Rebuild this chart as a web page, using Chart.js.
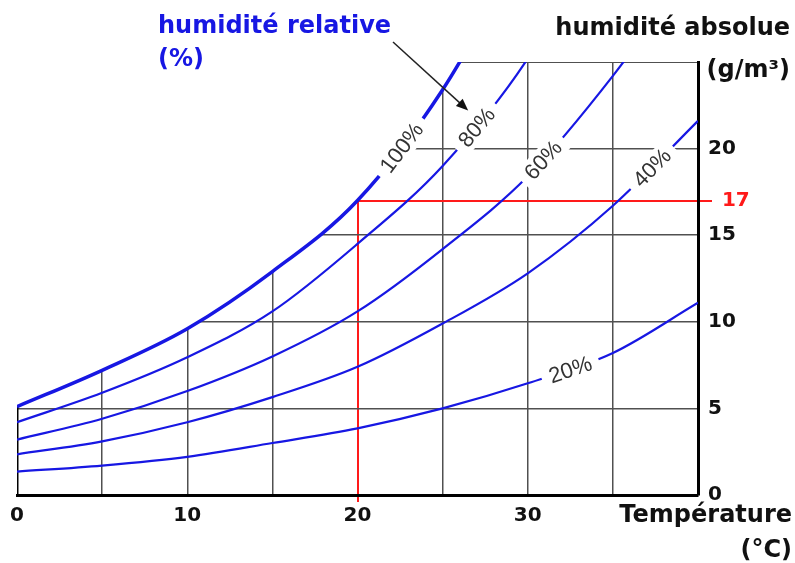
<!DOCTYPE html>
<html lang="fr">
<head>
<meta charset="UTF-8">
<title>Humidité relative et humidité absolue</title>
<script src="https://cdn.jsdelivr.net/npm/chart.js"></script>
<style>
body { margin: 0; background: #fff; }
#wrap { width: 795px; height: 563px; }
</style>
</head>
<body>
<div id="wrap"><canvas id="chart" width="795" height="563"></canvas></div>
<script>
// températures (°C)
const temps = [0, 5, 10, 15, 20, 25, 30, 35, 40];
// humidité absolue (g/m3) lue sur chaque courbe d'humidité relative
const rh100 = [5.1, 7.2, 9.6, 12.9, 17.0, 23.4, 32.0];
const rh80 = [4.2, 5.9, 7.95, 10.6, 14.5, 19.0, 25.2, 34.0];
const rh60 = [3.2, 4.4, 6.0, 8.0, 10.6, 14.2, 18.4, 24.2, 31.0];
const rh40 = [2.35, 3.1, 4.2, 5.65, 7.4, 9.9, 12.8, 16.7, 21.6];
const rh20 = [1.35, 1.7, 2.2, 3.0, 3.85, 5.0, 6.45, 8.2, 11.1];
const curveLabels = ['100%', '80%', '60%', '40%', '20%'];
const labelTemps = [22.6, 27.0, 30.9, 37.3, 32.5];
const xTicks = [0, 5, 10, 15, 20, 25, 30, 35, 40];
const yTicks = [0, 5, 10, 15, 17, 20, 25];
// point lu en rouge : 20 °C, 17 g/m3
const markTemp = 20;
const markHum = 17;

const blue = '#1717e3';
const red = '#ff1a1a';
const gridGray = '#505050';
const none = 'rgba(0,0,0,0)';
const tickFont = { family: 'DejaVu Sans', size: 20, weight: 'bold' };

function series(vals) {
  return vals.map((v, i) => ({ x: temps[i], y: v }));
}

// position sur la courbe lissée (x linéaire en t avec le mode monotone)
function pointOnCurve(meta, px) {
  const pts = meta.data;
  for (let i = 0; i < pts.length - 1; i++) {
    const a = pts[i], b = pts[i + 1];
    if (px >= a.x && px <= b.x) {
      const t = (px - a.x) / (b.x - a.x);
      const u = 1 - t;
      const a2 = a.cp2y === undefined ? a.y : a.cp2y;
      const b1 = b.cp1y === undefined ? b.y : b.cp1y;
      const y = u * u * u * a.y + 3 * u * u * t * a2 + 3 * u * t * t * b1 + t * t * t * b.y;
      const dy = 3 * u * u * (a2 - a.y) + 6 * u * t * (b1 - a2) + 3 * t * t * (b.y - b1);
      return { x: px, y: y, angle: Math.atan2(dy, b.x - a.x) };
    }
  }
  return null;
}

const decor = {
  id: 'decor',
  afterDatasetsDraw(chart) {
    const ctx = chart.ctx;
    const xs = chart.scales.x;

    // étiquettes des courbes
    ctx.save();
    ctx.font = '22px "Liberation Sans"';
    ctx.textAlign = 'center';
    ctx.textBaseline = 'middle';
    curveLabels.forEach((txt, i) => {
      const p = pointOnCurve(chart.getDatasetMeta(i), xs.getPixelForValue(labelTemps[i]));
      if (!p) return;
      const w = ctx.measureText(txt).width + 16;
      ctx.save();
      ctx.translate(p.x, p.y);
      ctx.rotate(p.angle);
      ctx.fillStyle = '#fff';
      ctx.fillRect(-w / 2, -12, w, 24);
      ctx.fillStyle = '#333';
      ctx.fillText(txt, 0, 1);
      ctx.restore();
    });
    ctx.restore();
  },
  afterDraw(chart) {
    const ctx = chart.ctx;
    const xs = chart.scales.x, ys = chart.scales.y;
    ctx.save();
    ctx.font = 'bold 24px "DejaVu Sans"';
    ctx.textBaseline = 'alphabetic';

    ctx.fillStyle = blue;
    ctx.textAlign = 'left';
    ctx.fillText('humidité relative', 158, 33);
    ctx.fillText('(%)', 158, 66);

    ctx.fillStyle = '#111';
    ctx.textAlign = 'right';
    ctx.fillText('humidité absolue', 790, 35);
    ctx.fillText('(g/m³)', 790, 77);
    ctx.fillText('Température', 792, 522);
    ctx.fillText('(°C)', 792, 557);

    // flèche vers la courbe 80 %
    const x0 = 393, y0 = 42;
    const x1 = xs.getPixelForValue(26.5), y1 = ys.getPixelForValue(22.2);
    const ang = Math.atan2(y1 - y0, x1 - x0);
    ctx.strokeStyle = '#222';
    ctx.fillStyle = '#111';
    ctx.lineWidth = 1.5;
    ctx.beginPath();
    ctx.moveTo(x0, y0);
    ctx.lineTo(x1 - 8 * Math.cos(ang), y1 - 8 * Math.sin(ang));
    ctx.stroke();
    ctx.beginPath();
    ctx.moveTo(x1, y1);
    ctx.lineTo(x1 - 12 * Math.cos(ang) + 5 * Math.sin(ang), y1 - 12 * Math.sin(ang) - 5 * Math.cos(ang));
    ctx.lineTo(x1 - 12 * Math.cos(ang) - 5 * Math.sin(ang), y1 - 12 * Math.sin(ang) + 5 * Math.cos(ang));
    ctx.closePath();
    ctx.fill();
    ctx.restore();
  }
};

const common = { pointRadius: 0, borderColor: blue, cubicInterpolationMode: 'monotone', fill: false };

new Chart(document.getElementById('chart'), {
  type: 'line',
  data: {
    datasets: [
      Object.assign({}, common, { data: series(rh100), borderWidth: 3.5, fill: 'end', backgroundColor: '#fff' }),
      Object.assign({}, common, { data: series(rh80), borderWidth: 2.2 }),
      Object.assign({}, common, { data: series(rh60), borderWidth: 2.2 }),
      Object.assign({}, common, { data: series(rh40), borderWidth: 2.2 }),
      Object.assign({}, common, { data: series(rh20), borderWidth: 2.2 }),
      // bord gauche du diagramme, jusqu'à la courbe de saturation
      { data: [{ x: temps[0], y: 0 }, { x: temps[0], y: rh100[0] }], borderColor: '#000', borderWidth: 3, pointRadius: 0, fill: false }
    ]
  },
  options: {
    responsive: false,
    animation: false,
    devicePixelRatio: 1,
    layout: { padding: { left: 17, top: 62, right: 0, bottom: 0 } },
    plugins: { legend: { display: false }, tooltip: { enabled: false } },
    scales: {
      x: {
        type: 'linear',
        min: 0,
        max: 40,
        afterBuildTicks: s => { s.ticks = xTicks.map(v => ({ value: v })); },
        afterFit: s => { s.height = 68; },
        grid: {
          color: c => c.tick.value === markTemp ? red : (c.tick.value === 0 ? none : gridGray),
          lineWidth: c => c.tick.value === markTemp ? 2 : 1.5,
          tickColor: c => c.tick.value === markTemp ? red : none,
          tickLength: 7
        },
        border: { color: '#000', width: 3 },
        ticks: {
          callback: v => (v % 10 === 0 && v < 40) ? v : '',
          font: tickFont,
          color: '#111',
          padding: 2,
          maxRotation: 0,
          autoSkip: false
        }
      },
      y: {
        position: 'right',
        min: 0,
        max: 25,
        afterBuildTicks: s => { s.ticks = yTicks.map(v => ({ value: v })); },
        afterFit: s => { s.width = 97; },
        grid: {
          color: c => c.tick.value === markHum ? red : gridGray,
          // ligne du haut fine pour rester dans la zone masquée au-dessus de 100 %
          lineWidth: c => c.tick.value === markHum ? 2 : (c.tick.value === 25 ? 1 : 1.5),
          tickColor: c => c.tick.value === markHum ? red : none,
          tickLength: 14
        },
        border: { color: '#000', width: 3 },
        ticks: {
          callback: v => v === 25 ? '' : (v === markHum ? '  ' + v : v),
          font: tickFont,
          color: c => c.tick.value === markHum ? red : '#111',
          padding: -4,
          autoSkip: false
        }
      }
    }
  },
  plugins: [decor]
});
</script>
</body>
</html>
